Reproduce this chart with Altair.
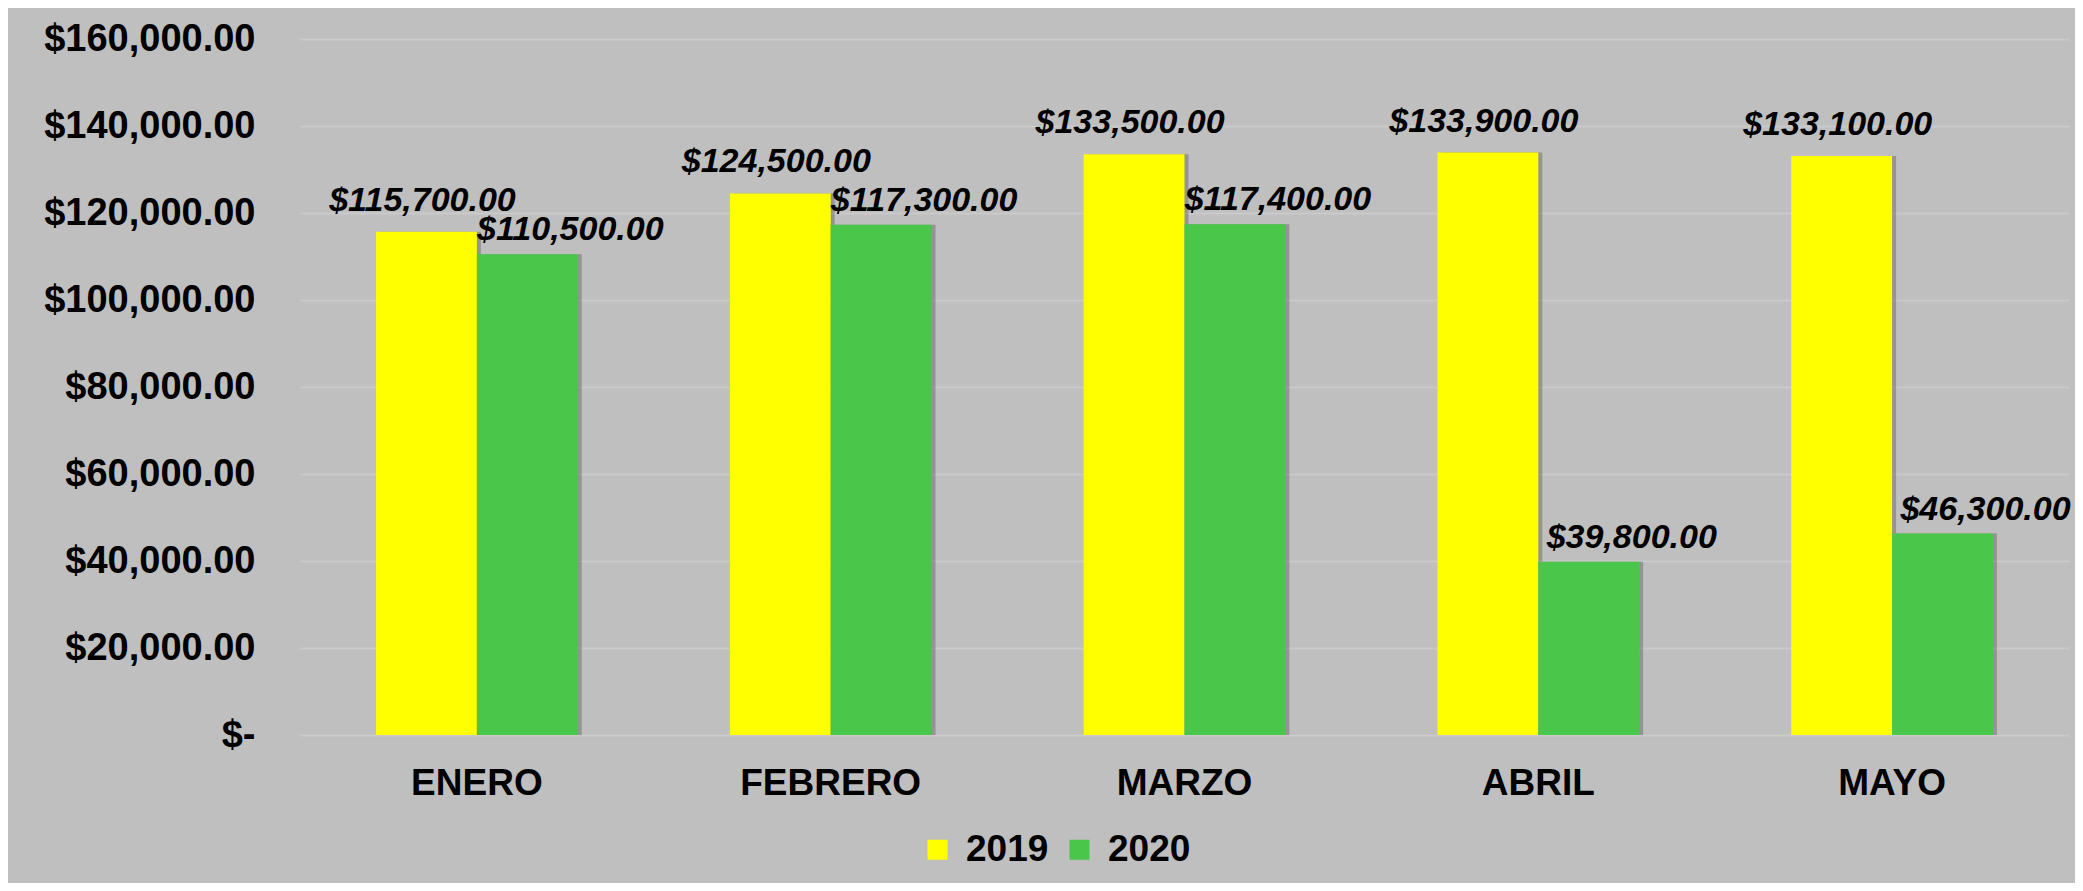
import altair as alt
import pandas as pd

meses = ["ENERO", "FEBRERO", "MARZO", "ABRIL", "MAYO"]
anios = ["2019", "2020"]
ventas_2019 = [115700, 124500, 133500, 133900, 133100]
ventas_2020 = [110500, 117300, 117400, 39800, 46300]
y_ticks = [0, 20000, 40000, 60000, 80000, 100000, 120000, 140000, 160000]

rows = []
for m, v in zip(meses, ventas_2019):
    rows.append({"mes": m, "anio": "2019", "valor": v})
for m, v in zip(meses, ventas_2020):
    rows.append({"mes": m, "anio": "2020", "valor": v})
df = pd.DataFrame(rows)

FONT = "Liberation Sans"
colores = ["#FFFF00", "#4AC74A"]

PLOT_W = 1769
STEP = PLOT_W / len(meses)
BAND = STEP * (1 - 0.43)

x_enc = alt.X("mes:N", sort=meses, title=None,
              scale=alt.Scale(paddingInner=0.43, paddingOuter=0.215),
              axis=alt.Axis(labelFont=FONT, labelFontSize=37, labelFontWeight="bold",
                            labelColor="#000000", labelAngle=0, labelPadding=30,
                            labelLimit=0, domain=False, ticks=False, grid=False))
xo_enc = alt.XOffset("anio:N", sort=anios)
xo_shadow = alt.XOffset("anio:N", sort=anios, scale=alt.Scale(range=[4, BAND + 4]))
y_enc = alt.Y("valor:Q", title=None,
              scale=alt.Scale(domain=[0, 160000], nice=False),
              axis=alt.Axis(values=y_ticks,
                            labelExpr="datum.value == 0 ? '$-\u00a0\u00a0' : '$' + format(datum.value, ',.2f')",
                            labelFont=FONT, labelFontSize=38, labelFontWeight="bold",
                            labelColor="#000000", labelPadding=45, labelLimit=0,
                            domain=False, ticks=False, grid=True,
                            gridColor="#CACACA", gridWidth=2))

base = alt.Chart(df)

shadow = base.mark_bar(color="#555555", opacity=0.4).encode(
    x=x_enc, xOffset=xo_shadow, y=y_enc)

bars = base.mark_bar().encode(
    x=x_enc, xOffset=xo_enc, y=y_enc,
    color=alt.Color("anio:N", sort=anios,
                    scale=alt.Scale(domain=anios, range=colores),
                    legend=alt.Legend(title=None, orient="none", legendX=619, legendY=792,
                                      direction="horizontal", symbolType="square",
                                      symbolSize=400, symbolStrokeWidth=0,
                                      labelFont=FONT, labelFontSize=37, labelFontWeight="bold",
                                      labelColor="#000000", labelOffset=10,
                                      columnPadding=12, padding=0)),
)

label_expr = "'$' + format(datum.valor, ',.2f')"

labels19 = base.transform_filter("datum.anio == '2019'").transform_calculate(
    etiqueta=label_expr
).mark_text(font=FONT, fontSize=34, fontWeight="bold", fontStyle="italic",
            color="#000000", baseline="middle", align="center", dx=-4, dy=-31).encode(
    x=x_enc, xOffset=xo_enc, y=y_enc, text="etiqueta:N")

labels20 = base.transform_filter("datum.anio == '2020'").transform_calculate(
    etiqueta=label_expr
).mark_text(font=FONT, fontSize=34, fontWeight="bold", fontStyle="italic",
            color="#000000", baseline="middle", align="center", dx=43, dy=-24).encode(
    x=x_enc, xOffset=xo_enc, y=y_enc, text="etiqueta:N")

main = alt.layer(bars, labels19, labels20)

chart = alt.layer(shadow, main).resolve_scale(xOffset="independent").properties(
    width=PLOT_W, height=696,
    padding={"left": 292, "top": 31, "right": 6, "bottom": 148},
    autosize=alt.AutoSizeParams(type="none"),
).configure(background="#BFBFBF").configure_view(stroke=None)

chart.save("out.html", embed_options={"renderer": "svg", "actions": False})
